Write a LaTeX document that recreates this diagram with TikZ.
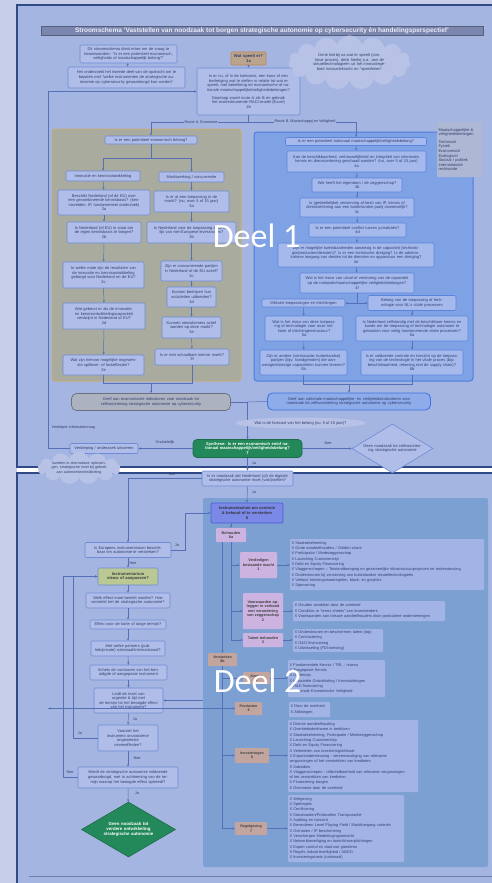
\documentclass[tikz,border=0pt]{standalone}
\usepackage{fontspec}
\setmainfont{Liberation Sans}
\newfontfamily\deelfont{Carlito}
\usetikzlibrary{arrows.meta,shapes.geometric,shapes.symbols}
\definecolor{pagebg}{HTML}{C7CEE9}
\definecolor{panelbg}{HTML}{A4B5E1}
\definecolor{frame}{HTML}{2F4A86}
\definecolor{titlebg}{HTML}{7B86AE}
\definecolor{titletxt}{HTML}{E8EBF6}
\definecolor{boxfill}{HTML}{AFBDE8}
\definecolor{boxdraw}{HTML}{6F8BD5}
\definecolor{khaki}{HTML}{A8AB9E}
\definecolor{khakidraw}{HTML}{C4AE7C}
\definecolor{bluepanel}{HTML}{7FA2E5}
\definecolor{bluedraw}{HTML}{4B7DE0}
\definecolor{bboxfill}{HTML}{A6B9EC}
\definecolor{bboxdraw}{HTML}{5A84DC}
\definecolor{tanfill}{HTML}{BBA48D}
\definecolor{tandraw}{HTML}{C0824E}
\definecolor{cloudfill}{HTML}{B8C2E6}
\definecolor{notefill}{HTML}{AEB7D3}
\definecolor{greyind}{HTML}{ADB2C1}
\definecolor{greyinddraw}{HTML}{6C707C}
\definecolor{natfill}{HTML}{8EABEA}
\definecolor{natdraw}{HTML}{3C72DF}
\definecolor{greenf}{HTML}{23895A}
\definecolor{greend}{HTML}{1C6B47}
\definecolor{tealbg}{HTML}{7DA0D3}
\definecolor{instr}{HTML}{7A88E6}
\definecolor{instrd}{HTML}{4B5CD6}
\definecolor{pinkf}{HTML}{CDB4E0}
\definecolor{tanbox}{HTML}{C3A59F}
\definecolor{listf}{HTML}{A2B4E5}
\definecolor{ygf}{HTML}{BAC894}
\definecolor{lnk}{HTML}{5670B8}
\definecolor{txt}{HTML}{33406E}
\tikzset{
  bfont/.style={font=\fontsize{4}{4.6}\selectfont, text=txt, align=center, inner sep=1.5pt},
  wh/.style 2 args={text width=#1, minimum height=#2},
  abx/.style={bfont, draw=boxdraw, fill=boxfill, rounded corners=1.2pt, line width=0.6pt},
  bbx/.style={bfont, draw=bboxdraw, fill=bboxfill, rounded corners=1.2pt, line width=0.6pt},
  pbx/.style={bfont, fill=pinkf, rounded corners=1pt, font=\bfseries\fontsize{3.8}{4.5}\selectfont, text=black!75},
  tbx/.style={bfont, fill=tanbox, rounded corners=1pt, font=\bfseries\fontsize{3.6}{4.4}\selectfont, text=black!75},
  lst/.style={font=\fontsize{3.9}{5.3}\selectfont, text=txt, align=left, fill=listf, rounded corners=1pt, inner sep=1.5pt},
  ln/.style={draw=lnk, line width=0.5pt},
  arr/.style={ln, -{Stealth[length=2.6pt,width=2.2pt]}},
  lbl/.style={font=\fontsize{3.8}{4.4}\selectfont, text=txt, inner sep=0.5pt},
  cld/.style={cloud, cloud puffs=15, fill=cloudfill, bfont, inner sep=0pt},
}
\begin{document}
\begin{tikzpicture}[x=1pt,y=-1pt]
\useasboundingbox (0,0) rectangle (492,883);
% backgrounds
\fill[pagebg] (0,0) rectangle (492,883);
\fill[white] (17,467) rectangle (492,473);
\draw[fill=panelbg, draw=frame, line width=1.4pt] (17,5) rectangle (520,467);
\draw[fill=panelbg, draw=frame, line width=1.4pt] (17,473) rectangle (520,900);

% title
\node[fill=titlebg, draw=titlebg!70!black, text=titletxt, font=\bfseries\fontsize{6.5}{7}\selectfont, minimum width=442pt, minimum height=9pt, inner sep=0pt] (title) at (262,31) {Stroomschema 'Vaststellen van noodzaak tot borgen strategische autonomie op cybersecurity én handelingsperspectief'};

% route panels
\draw[fill=khaki, draw=khakidraw, line width=1pt, rounded corners=3pt] (52,129) rectangle (241,381);
\draw[fill=bluepanel, draw=bluedraw, line width=1pt, rounded corners=3pt] (254,132) rectangle (473,381);

% top nodes
\node[abx, wh={94pt}{18pt}] (n0) at (128.5,54) {Dit stroomschema dient ertoe om de vraag te beantwoorden: ``Is er een potentieel economisch, veiligheids of maatschappelijk belang?''};
\node[abx, wh={114pt}{21pt}] (n0b) at (126.5,77.5) {Het onderzoekt het tweede deel van de opdracht om te bepalen met ``welke instrumenten de strategische autonomie op cybersecurity gewaarborgd kan worden''};
\node[bfont, draw=tandraw, fill=tanfill, rounded corners=1.2pt, line width=0.7pt, font=\bfseries\fontsize{4.2}{5}\selectfont, wh={32pt}{13pt}] (n1a) at (248.5,58.5) {Wat speelt er?\\1a};
\node[abx, wh={100pt}{47pt}] (n1b) at (248.5,91.5) {Is er nu, of in de toekomst, een kans of een bedreiging wat te stellen in relatie tot wat er speelt, met betrekking tot economische of nationale maatschappelijke/veiligheidsbelangen?\\[3pt] Doorloop zowel route A als B en gebruik het ondersteunende RACI-model (Excel)\\1b};
\node[cld, aspect=3.3, text width=84pt] (c1) at (349.5,62.5) {Denk hierbij na wat er speelt (continue proces), denk hierbij o.a. aan de sleuteltechnologieën uit het innovatiegebied innovatiekracht en ``speerlinien''};
\node[bfont, fill=notefill, rounded corners=1pt, align=left, wh={42pt}{55pt}] (note) at (459.5,149.5) {Maatschappelijke \&\\ veiligheidsbelangen\\[3pt] Technisch\\ Fysiek\\ Economisch\\ Ecologisch\\ Sociaal / politiek\\ Internationale\\ rechtsorde};

% Route A
\node[abx, wh={89pt}{8pt}] (aq) at (151,140) {Is er een potentieel economisch belang?};
\node[abx, wh={71pt}{10pt}] (a1) at (103,176) {Innovatie en kennisontwikkeling};
\node[abx, wh={62pt}{10pt}] (a2) at (191.5,177) {Marktwerking / concurrentie};
\node[abx, wh={89pt}{25pt}] (a2a) at (104,202.5) {Beschikt Nederland (of de EU) over een gecombineerde kennisbasis? (kennisvelden, IP, fundamenteel onderzoek)\\2a};
\node[abx, wh={71pt}{21pt}] (a2b) at (104,232.5) {Is Nederland (of EU) in staat om de eigen kennisbasis te borgen?\\2b};
\node[abx, wh={78pt}{26pt}] (a2c) at (103.5,275) {In welke mate zijn de resultaten van de innovatie en kennisontwikkeling geborgd voor Nederland en de EU?\\2c};
\node[abx, wh={79pt}{26pt}] (a2d) at (104,316) {Wat gebeurt er als de innovatie- en kennisontwikkelingscapaciteit verdwijnt in Nederland of EU?\\2d};
\node[abx, wh={78pt}{20pt}] (a2e) at (103.5,365) {Wat zijn hiervan mogelijke ongewenste spillover- of lockeffecten?\\2e};
\node[abx, wh={72pt}{21pt}] (a3a) at (191.5,201.5) {Is er al een toepassing in de markt? (nu, over 5 of 15 jaar)\\3a};
\node[abx, wh={86pt}{21pt}] (a3b) at (191.5,232.5) {Is Nederland voor de toepassing afhankelijk van niet-Europese leveranciers?\\3b};
\node[abx, wh={58pt}{20pt}] (a3c) at (191.5,271) {Zijn er concurrerende partijen in Nederland of de EU actief?\\3c};
\node[abx, wh={46pt}{20pt}] (a3d) at (191.5,297) {Kunnen bedrijven hun activiteiten uitbreiden?\\3d};
\node[abx, wh={56pt}{21pt}] (a3e) at (191.5,327.5) {Kunnen nieuwkomers actief worden op deze markt?\\3e};
\node[abx, wh={71pt}{16pt}] (a3f) at (192,357) {Is er een schaalbare interne markt?\\3f};
\node[bfont, draw=greyinddraw, fill=greyind, rounded corners=5pt, line width=0.7pt, wh={156pt}{17pt}] (econ) at (151,402) {Geef aan economische indicatoren voor noodzaak tot zelfvoorziening strategische autonomie op cybersecurity};

% Route B
\node[bbx, wh={138pt}{8pt}] (bq) at (356,141.5) {Is er een potentieel nationaal maatschappelijk/veiligheidsbelang?};
\node[bbx, wh={136pt}{21pt}] (b4a) at (356.5,161.5) {Kan de beschikbaarheid, vertrouwelijkheid en integriteit van informatie, kennis en dienstverlening geschaad worden? (nu, over 5 of 15 jaar)\\4a};
\node[bbx, wh={87pt}{14pt}] (b4b) at (357,185) {Wie heeft het eigendom / de zeggenschap?\\4b};
\node[bbx, wh={111pt}{19pt}] (b4c) at (357,207.5) {Is (gedeeltelijke) verwerving of bezit van IP, kennis of dienstverlening aan een buitenlandse partij onwenselijk?\\4c};
\node[bbx, wh={94pt}{14pt}] (b4d) at (357.5,230) {Is er een potentieel conflict tussen jurisdicties?\\4d};
\node[bbx, wh={153pt}{24pt}] (b4e) at (356,255) {Zijn er mogelijke kwetsbaarheden aanwezig in de capaciteit (technologie/producten/diensten)? Is er een technische dreiging? Is de administratieve toegang van derden tot de diensten en apparatuur een dreiging?\\4e};
\node[bbx, wh={111pt}{20pt}] (b4f) at (357,283) {Wat is het risico van uitval of verstoring van de capaciteit op de nationale/maatschappelijke veiligheidsbelangen?\\4f};
\node[bbx, wh={80pt}{8pt}] (bm) at (303.5,303) {Militaire toepassingen en inlichtingen};
\node[bbx, wh={85pt}{15pt}] (bv) at (412,303) {Belang van de toepassing of technologie voor NL's vitale processen};
\node[bbx, wh={75pt}{25pt}] (b5a) at (304,328.5) {Wat is het risico van deze toepassing of technologie voor onze militaire of inlichtingenstructuur?\\5a};
\node[bbx, wh={84pt}{25pt}] (b5b) at (303.5,362.5) {Zijn er andere (vertrouwde; buitenlandse) partijen (bijv. bondgenoten) die aanwezige/afwezige capaciteiten kunnen leveren?\\5b};
\node[bbx, wh={109pt}{25pt}] (b6a) at (412,328.5) {Is Nederland zelfstandig met de beschikbare kennis en kunde om de toepassing of technologie autonoom te gebruiken voor veilig functionerende vitale processen?\\6a};
\node[bbx, wh={99pt}{25pt}] (b6b) at (412,362.5) {Is er voldoende controle en toezicht op de toepassing van de technologie in het vitale proces (bijv. beschikbaarheid, rekening met de supply chain)?\\6b};
\node[bfont, draw=natdraw, fill=natfill, rounded corners=5pt, line width=0.8pt, wh={160pt}{17pt}] (nat) at (349,401.5) {Geef aan nationale maatschappelijke- en veiligheidsindicatoren voor noodzaak tot zelfvoorziening strategische autonomie op cybersecurity};

% synthesis
\node[bfont, draw=greend, fill=greenf, rounded corners=4pt, line width=0.7pt, font=\bfseries\fontsize{4.1}{4.8}\selectfont, text=white, wh={106pt}{18pt}] (g1) at (247.5,448.5) {Synthese: Is er een economisch en/of nationaal maatschappelijk/veiligheidsbelang?\\7};
\node[abx, wh={65pt}{10pt}] (verd) at (104,448.5) {Verdieping / onderzoek uitvoeren};
\node[bfont, diamond, aspect=1.65, draw=boxdraw, fill=boxfill, line width=0.6pt, inner sep=0pt, text width=64pt, minimum width=81pt, minimum height=49pt] (d1) at (392.5,448.5) {Geen noodzaak tot zelfvoorziening strategische autonomie};
\node[lbl, anchor=west] (vinfo) at (51,428) {Verdiepte informatievraag};

% ===== Deel 2 =====
\fill[tealbg, rounded corners=2pt] (203,498) rectangle (488,867);
\node[abx, wh={88pt}{15pt}] (nq) at (247.5,478.5) {Is er noodzaak dat Nederland (of) de digitale strategische autonomie moet (vast)stellen?};
\node[bfont, draw=instrd, fill=instr, rounded corners=1.2pt, line width=0.7pt, font=\bfseries\fontsize{4}{4.7}\selectfont, text=black!80, wh={69pt}{20pt}] (i8) at (247,513) {Instrumentarium om controle \& behoud of te versterken\\8};
\node[abx, wh={83pt}{15pt}] (eq) at (128,550) {Is Europees instrumentarium beschikbaar om autonomie te versterken?};
\node[bfont, draw=boxdraw, fill=ygf, rounded corners=1.2pt, line width=0.6pt, font=\bfseries\fontsize{4.1}{4.8}\selectfont, text=black!75, wh={57pt}{17pt}] (inw) at (128,576.5) {Instrumentarium\\nieuw of aanpassen?};
\node[abx, wh={81pt}{15pt}] (q1) at (128,600.5) {Welk effect moet bereikt worden? Hoe versterkt het de strategische autonomie?};
\node[abx, wh={73pt}{9pt}] (q2) at (128,624.5) {Effect voor de korte of lange termijn?};
\node[abx, wh={71pt}{15pt}] (q3) at (128,648.5) {Met welke partners (publiek/private) nationaal/internationaal?};
\node[abx, wh={74pt}{15pt}] (q4) at (128.5,672.5) {Schets de contouren van het benodigde of aangepaste instrument};
\node[abx, wh={66pt}{25pt}] (q5) at (128.5,700.5) {Leidt de inzet van\\ urgentie \& tijd met\\ de termijn tot het beoogde effect\\ van het instrument?};
\node[abx, wh={57pt}{26pt}] (q6) at (128,738) {Voorziet het\\ instrument onvoorziene\\ ongewenste\\ neveneffecten?};
\node[abx, wh={97pt}{21pt}] (q7) at (128,777.5) {Wordt de strategische autonomie voldoende gewaarborgd, met in achtneming van de termijn waarop het beoogde effect optreedt?};
\node[bfont, diamond, aspect=1.7, draw=greend, fill=greenf, line width=0.6pt, inner sep=0pt, font=\bfseries\fontsize{4.4}{5.3}\selectfont, text=white, text width=60pt, minimum width=94pt, minimum height=55pt] (gd) at (128.5,829.5) {Geen noodzaak tot verdere ontwikkeling strategische autonomie};

% teal contents
\node[pbx, wh={27pt}{14pt}] (beh) at (231,535) {Behouden\\8a};
\node[pbx, wh={34pt}{26pt}] (p1) at (258.5,565) {Verdedigen bestaande macht\\1};
\node[pbx, wh={37pt}{36pt}] (p2) at (263,611) {Voorwaarden opleggen in verband met verandering van zeggenschap\\2};
\node[pbx, wh={37pt}{14pt}] (p3) at (263,640) {Talent behouden\\3};
\node[tbx, wh={26pt}{13pt}] (vst) at (222.5,659.5) {Versterken\\8b};
\node[tbx, wh={24pt}{12pt}] (ken) at (256.5,678) {Kennis\\5};
\node[tbx, wh={24pt}{13pt}] (prd) at (248.5,708.5) {Producten\\9};
\node[tbx, wh={31pt}{15pt}] (inv) at (252,755.5) {Investeringen\\6};
\node[tbx, wh={29pt}{13pt}] (reg) at (251,828.5) {Regelgeving\\7};

\node[lst, wh={191pt}{51pt}] (l1) at (387,564.5) {X Staatsdeelneming\\X Grote aandeelhouders / Golden share\\X Participatie / Medezeggenschap\\X Launching Customership\\X Debt en Equity Financiering\\X Vlaggenschepen – Totstandbrenging en gezamenlijke infrastructuurprojecten ter ondersteuning\\X Ondersteunen bij verwerving van buitenlandse sleuteltechnologieën\\X Verbod, toetsingsmaatregelen, black- en greylists\\X Sponsoring};
\node[lst, wh={149pt}{20pt}] (l2) at (369,611) {X Gouden aandelen door de overheid\\X Condities in ``terms sheets'' van investeerders\\X Voorwaarden aan nieuwe aandeelhouders door particuliere ondernemingen};
\node[lst, wh={87pt}{22pt}] (l3) at (338,640.5) {X Ondersteunen en beschermen talent (top)\\X Contractering\\X O\&O financiering\\X Uitwisseling (FDI-toetsing)};
\node[lst, wh={94pt}{37pt}] (lk) at (336.5,678.5) {X Fundamentele Kennis / TRL - niveau\\X Toegepaste Kennis\\X Onderwijs\\X Industriële Ontwikkeling / Kennisdelingen\\X R\&D financiering\\X Nationale Economische Veiligheid};
\node[lst, wh={38pt}{15pt}] (lp) at (309.5,709.5) {X Door de overheid\\X Afdwingen};
\node[lst, wh={127pt}{72pt}] (li) at (353,756) {X Directe aandeelhouding\\X Overheidsdeelname in bedrijven\\X Staatsdeelneming, Participatie / Medezeggenschap\\X Launching Customership\\X Debt en Equity Financiering\\X Verbeteren van investeringsklimaat\\X Exportondersteuning - vereenvoudiging van relevante\\vergunningen of het verstrekken van kredieten\\X Subsidies\\X Vlaggenschepen - Uitbreidbaarheid van relevante vergunningen\\of het verstrekken van kredieten\\X Financiering borgen\\X Overname door de overheid};
\node[lst, wh={113pt}{67pt}] (lr) at (346,828.5) {X Wetgeving\\X Spelregels\\X Certificering\\X Standaarden/Protocollen Transparantie\\X Auditing en toezicht\\X Bevorderen Level Playing Field / Markttoegang controle\\X Octrooien / IP bescherming\\X Verscherpen Mededingingstoezicht\\X Netwerkbeveiliging en toezichtsverplichtingen\\X Export control en dual-use goederen\\X Regels Industrieveiligheid / ABDO\\X Investeringstoets (nationaal)};

% ===== connectors Deel 1 =====
\draw[arr] (n0) -- (n0b);
\draw[arr] (n1a) -- (n1b);
\coordinate (rs) at (248.5,122);
\draw[ln] (n1b.south) -- (rs);
\draw[arr] (rs) -| (aq.north);
\draw[arr] (rs) -| (bq.north);
\coordinate (sa) at (151,158);
\draw[ln] (aq.south) -- (sa);
\draw[arr] (sa) -| (a1.north);
\draw[arr] (sa) -| (a2.north);
\draw[arr] (a1) -- (a2a);
\draw[arr] (a2a) -- (a2b);
\draw[arr] (a2b) -- (a2c);
\draw[arr] (a2c) -- (a2d);
\draw[arr] (a2d) -- (a2e);
\draw[arr] (a2) -- (a3a);
\draw[arr] (a3a) -- (a3b);
\draw[arr] (a3b) -- (a3c);
\draw[arr] (a3c) -- (a3d);
\draw[arr] (a3d) -- (a3e);
\draw[arr] (a3e) -- (a3f);
\coordinate (ma) at (151,383);
\draw[ln] (a2e.south) -- (a2e.south |- ma) -- (a3f.south |- ma) -- (a3f.south);
\draw[arr] (ma) -- (econ.north);
\draw[arr] (bq) -- (b4a);
\draw[arr] (b4a) -- (b4b);
\draw[arr] (b4b) -- (b4c);
\draw[arr] (b4c) -- (b4d);
\draw[arr] (b4d) -- (b4e);
\draw[arr] (b4e) -- (b4f);
\coordinate (sf) at (357,303);
\draw[ln] (b4f.south) -- (sf);
\draw[arr] (sf) -- (bm.east);
\draw[arr] (sf) -- (bv.west);
\draw[arr] (bm) -- (b5a);
\draw[arr] (b5a) -- (b5b);
\draw[arr] (bv) -- (b6a);
\draw[arr] (b6a) -- (b6b);
\coordinate (mb) at (349,384);
\draw[ln] (b5b.south) -- (b5b.south |- mb) -- (b6b.south |- mb) -- (b6b.south);
\draw[arr] (mb) -- (nat.north);
\coordinate (jn) at (247.5,402);
\draw[ln] (econ.east) -- (jn);
\draw[ln] (nat.west) -- (jn);
\draw[arr] (jn) -- (g1.north);
\draw[arr] (g1.west) -- (verd.east);
\coordinate (lp) at (48,448.5);
\draw[arr] (verd.west) -- (lp) |- (n1b.west);
\draw[arr] (g1.east) -- (d1.west);
\draw[arr] (g1.south) -- (nq.north);

% connectors Deel 2
\draw[arr] (nq.west) -| (eq.north);
\draw[arr] (nq.south) -- (i8.north);
\coordinate (ej) at (185,550);
\draw[arr] (eq.east) -- (ej) |- (i8.west);
\draw[arr] (eq) -- (inw);
\draw[arr] (inw) -- (q1);
\draw[arr] (q1) -- (q2);
\draw[arr] (q2) -- (q3);
\draw[arr] (q3) -- (q4);
\draw[arr] (q4) -- (q5);
\draw[arr] (q5) -- (q6);
\draw[arr] (q6) -- (q7);
\draw[arr] (q7) -- (gd);
\coordinate (l6) at (73,738);
\draw[arr] (q6.west) -- (l6) |- (inw.west);
\coordinate (l7) at (63,777.5);
\draw[arr] (q7.west) -- (l7) |- (inw.west);
\coordinate (tw) at (203,700.5);
\draw[arr] (tw) -- (q5.east);
\draw[arr] (i8.south -| beh) -- (beh.north);
\draw[ln] (beh.south) -- (beh.south |- p3.west);
\draw[arr] (beh.south |- p1.west) -- (p1.west);
\draw[arr] (beh.south |- p2.west) -- (p2.west);
\draw[arr] (beh.south |- p3.west) -- (p3.west);
\draw[arr] (beh.south -| vst) -- (vst.north);
\draw[ln] (vst.south) -- (vst.south |- reg.west);
\draw[arr] (vst.south |- ken.west) -- (ken.west);
\draw[arr] (vst.south |- prd.west) -- (prd.west);
\draw[arr] (vst.south |- inv.west) -- (inv.west);
\draw[arr] (vst.south |- reg.west) -- (reg.west);
\draw[arr] (p1) -- (l1.west |- p1);
\draw[arr] (p2) -- (l2.west |- p2);
\draw[arr] (p3) -- (l3.west |- p3);
\draw[arr] (ken) -- (lk.west |- ken);
\draw[arr] (prd) -- (lp.west |- prd);
\draw[arr] (inv) -- (li.west |- inv);
\draw[arr] (reg) -- (lr.west |- reg);
\draw[draw=frame!70, line width=0.8pt] (29,876) -- (492,876);

% labels and overlays
\node[lbl, fill=panelbg] (ra) at (201,122) {Route A. Economie};
\node[lbl, fill=panelbg] (rb) at (305,122) {Route B. Maatschappij en Veiligheid};
\node[bfont, ellipse, fill=cloudfill, inner sep=0pt, minimum width=125pt, minimum height=11pt] (c2) at (300.5,423) {Wat is de forecast van het belang (nu, 5 of 15 jaar)?};
\node[cloud, cloud puffs=13, fill=cloudfill, font=\fontsize{3.7}{4.3}\selectfont, text=txt, align=center, inner sep=0pt, aspect=4.5, text width=58pt] (c3) at (79,468) {Inzetten in alternatieve oplossingen, strategische inzet bij gebrek aan autonomieontwikkeling};
\node[lbl] at (165,443) {Onduidelijk};
\node[lbl] at (328,443) {Nee};
\node[lbl] at (254,463) {Ja};
\node[lbl] at (172,474) {Nee};
\node[lbl] at (254,492) {Ja};
\node[lbl] at (177,545) {Ja};
\node[lbl] at (133,563) {Nee};
\node[lbl] at (135,719) {Ja};
\node[lbl] at (80,733) {Ja};
\node[lbl] at (137,758) {Nee};
\node[lbl] at (70,772) {Nee};
\node[lbl] at (137,793) {Ja};
\node[font=\deelfont\fontsize{34}{34}\selectfont, text=white, anchor=base, inner sep=0pt] (deel1) at (256.5,247) {Deel 1};
\node[font=\deelfont\fontsize{34}{34}\selectfont, text=white, anchor=base, inner sep=0pt] (deel2) at (257.5,692) {Deel 2};
\end{tikzpicture}
\end{document}
